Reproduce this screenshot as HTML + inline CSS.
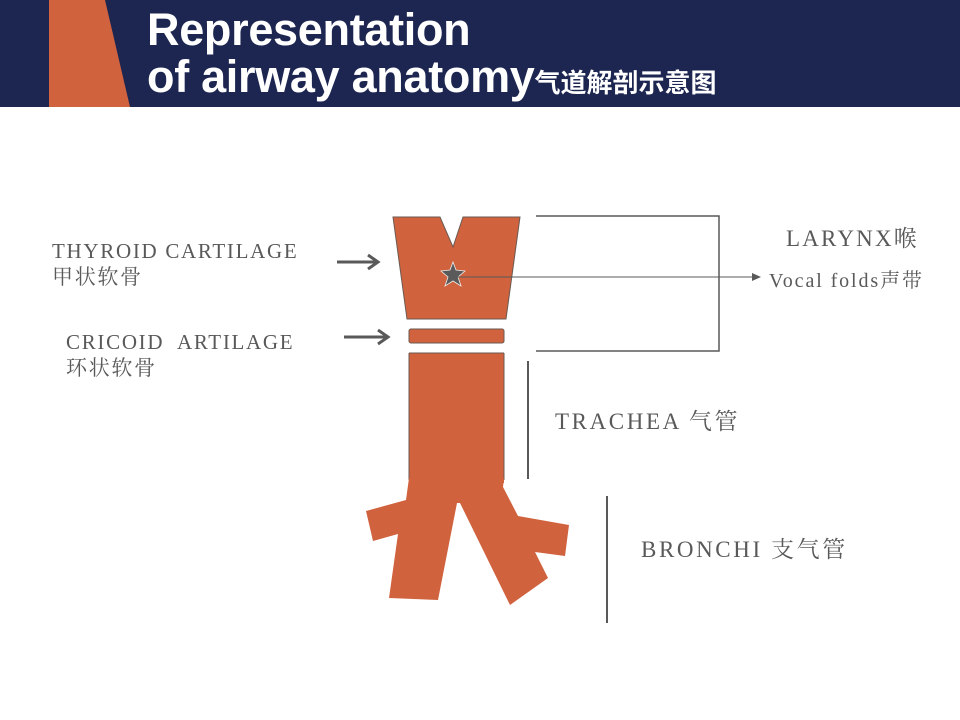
<!DOCTYPE html>
<html><head><meta charset="utf-8"><style>
body{margin:0;width:960px;height:720px;background:#fff;overflow:hidden;position:relative;font-family:"Liberation Serif","Noto Serif CJK SC",serif;color:#595959}
.t{position:absolute;font-size:21px;line-height:26px;white-space:nowrap;letter-spacing:1.7px}
.h{position:absolute;left:147px;color:#fff;font-family:"Liberation Sans","Noto Sans CJK SC",sans-serif;font-weight:bold;font-size:45px;line-height:48px;white-space:nowrap;letter-spacing:-0.3px}
</style></head><body>
<svg width="960" height="720" style="position:absolute;left:0;top:0">
<rect x="0" y="0" width="960" height="107" fill="#1d2651"/>
<polygon points="49,0 105,0 130,107 49,107" fill="#d0623e"/>
<g fill="#d0623e" stroke="#6b5a52" stroke-width="1">
<polygon points="393,217 440,217 453,247 463,217 520,217 506,319 407,319"/>
<rect x="409" y="329" width="95" height="14" rx="2"/>
<rect x="409" y="353" width="95" height="130" stroke="none"/>
<line x1="409" y1="353" x2="504" y2="353"/>
<line x1="409" y1="353" x2="409" y2="480"/><line x1="504" y1="353" x2="504" y2="480"/>
</g>
<polygon fill="#d0623e" points="409,478 406,500 366,511 373,541 398,534 389,598 438,600 457,503 460,503 510,605 548,578 535,552 565,556 569,525 518,516 503,487 504,478"/>
<polygon points="453,262 456,270 465,271 458,277 461,286 453,281 445,286 448,277 441,271 450,270" fill="#5a5a5a" stroke="#eee" stroke-width="0.8"/>
<g stroke="#595959" fill="none">
<line x1="455" y1="277" x2="752" y2="277" stroke-width="1"/>
<polyline points="536,216 719,216 719,351 536,351" stroke-width="1.5"/>
<line x1="528" y1="361" x2="528" y2="479" stroke-width="2"/>
<line x1="607" y1="496" x2="607" y2="623" stroke-width="2"/>
<line x1="337" y1="262" x2="378" y2="262" stroke-width="3"/>
<polyline points="368,255 378,262 368,269" stroke-width="3"/>
<line x1="344" y1="337" x2="388" y2="337" stroke-width="3"/>
<polyline points="378,330 388,337 378,344" stroke-width="3"/>
</g>
<polygon points="752,273 761,277 752,281" fill="#595959"/>
</svg>
<div class="h" style="top:6px">Representation</div>
<div class="h" style="top:53px">of airway anatomy<span style="font-size:26px;letter-spacing:0">气道解剖示意图</span></div>
<div class="t" style="left:52px;top:238px">THYROID CARTILAGE<br>甲状软骨</div>
<div class="t" style="left:66px;top:329px">CRICOID&nbsp; ARTILAGE<br>环状软骨</div>
<div class="t" style="left:786px;top:226px;font-size:23px;letter-spacing:2.2px">LARYNX喉</div>
<div class="t" style="left:769px;top:268px;font-size:20px;letter-spacing:1.9px">Vocal folds声带</div>
<div class="t" style="left:555px;top:409px;font-size:23px;letter-spacing:2.6px">TRACHEA 气管</div>
<div class="t" style="left:641px;top:537px;font-size:23px;letter-spacing:2.6px">BRONCHI 支气管</div>
</body></html>
